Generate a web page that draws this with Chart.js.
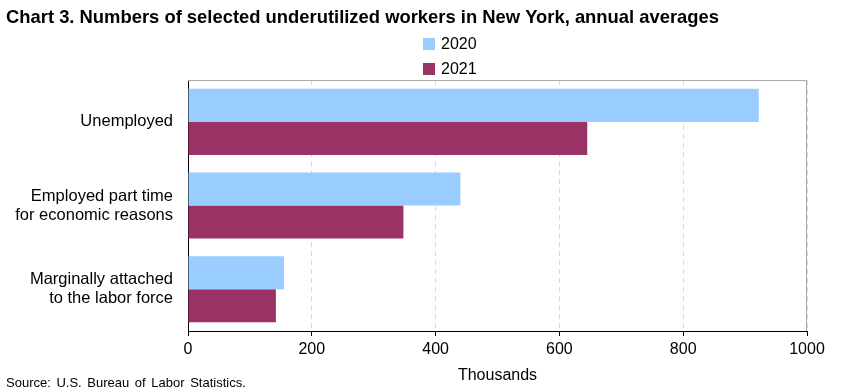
<!DOCTYPE html>
<html>
<head>
<meta charset="utf-8">
<script src="https://cdn.jsdelivr.net/npm/chart.js@4"></script>
<style>
  body { margin: 0; background: #fff; font-family: Arial, "Liberation Sans", sans-serif; }
  #wrap { position: relative; width: 841px; height: 391px; }
  #legend { position: absolute; left: 423px; top: 31px; font-size: 16px; color: #000; }
  .item { display: flex; align-items: center; height: 25px; }
  .box { width: 12px; height: 12px; margin-right: 6px; }
  #source { position: absolute; left: 6px; top: 375px; font-size: 13px; word-spacing: 2px; color: #000; }
</style>
</head>
<body>
<div id="wrap">
  <canvas id="chart" width="841" height="391"></canvas>
  <div id="legend"></div>
  <div id="source">Source: U.S. Bureau of Labor Statistics.</div>
</div>
<script>
const categories = [
  'Unemployed',
  ['Employed part time', 'for economic reasons'],
  ['Marginally attached', 'to the labor force']
];
const seriesNames = ['2020', '2021'];
const values2020 = [922, 440, 155];
const values2021 = [645, 348, 142];
const xTicks = [0, 200, 400, 600, 800, 1000];

const colors = ['#99CCFF', '#993366'];
const FONT = "Arial, 'Liberation Sans', sans-serif";

// legend in html, stacked like the original
const legendEl = document.getElementById('legend');
seriesNames.forEach((name, i) => {
  const row = document.createElement('div');
  row.className = 'item';
  row.innerHTML = '<span class="box" style="background:' + colors[i] + '"></span>' + name;
  legendEl.appendChild(row);
});

// gray frame on top and right of the plot area
const frame = {
  id: 'frame',
  afterDatasetsDraw(chart) {
    const { ctx, chartArea: a } = chart;
    ctx.save();
    ctx.strokeStyle = '#A6A6A6';
    ctx.lineWidth = 1;
    ctx.beginPath();
    ctx.moveTo(a.left, a.top + 0.5);
    ctx.lineTo(a.right - 0.5, a.top + 0.5);
    ctx.lineTo(a.right - 0.5, a.bottom);
    ctx.stroke();
    ctx.restore();
  }
};

new Chart(document.getElementById('chart'), {
  type: 'bar',
  data: {
    labels: categories,
    datasets: [
      { label: seriesNames[0], data: values2020, backgroundColor: colors[0] },
      { label: seriesNames[1], data: values2021, backgroundColor: colors[1] }
    ]
  },
  options: {
    indexAxis: 'y',
    responsive: false,
    animation: false,
    layout: { padding: { left: 6, right: 34, top: 0, bottom: 0 } },
    datasets: { bar: { categoryPercentage: 0.79, barPercentage: 1 } },
    plugins: {
      legend: { display: false },
      tooltip: { enabled: false },
      title: {
        display: true,
        text: 'Chart 3. Numbers of selected underutilized workers in New York, annual averages',
        align: 'start',
        color: '#000',
        font: { family: FONT, size: 18.4, weight: 'bold' },
        padding: { top: 7, bottom: 51 }
      }
    },
    scales: {
      x: {
        min: 0,
        max: 1000,
        afterBuildTicks(scale) { scale.ticks = xTicks.map(v => ({ value: v })); },
        afterFit(scale) { scale.height = 60; },
        ticks: {
          color: '#000',
          font: { family: FONT, size: 16 },
          padding: 4,
          callback: v => String(v)
        },
        grid: {
          color: ctx => ctx.tick && ctx.tick.value === 0 ? 'rgba(0,0,0,0)' : '#D9D9D9',
          tickColor: '#000',
          tickLength: 5
        },
        border: { color: '#000', width: 1, dash: [5, 4] },
        title: {
          display: true,
          text: 'Thousands',
          color: '#000',
          font: { family: FONT, size: 16 },
          padding: { top: 0, bottom: 6 }
        }
      },
      y: {
        afterFit(scale) { scale.width = 182; },
        ticks: { color: '#000', font: { family: FONT, size: 16.5, lineHeight: 1.15 }, padding: 15 },
        grid: { display: false, drawTicks: false },
        border: { color: '#000', width: 1 }
      }
    }
  },
  plugins: [frame]
});
</script>
</body>
</html>
